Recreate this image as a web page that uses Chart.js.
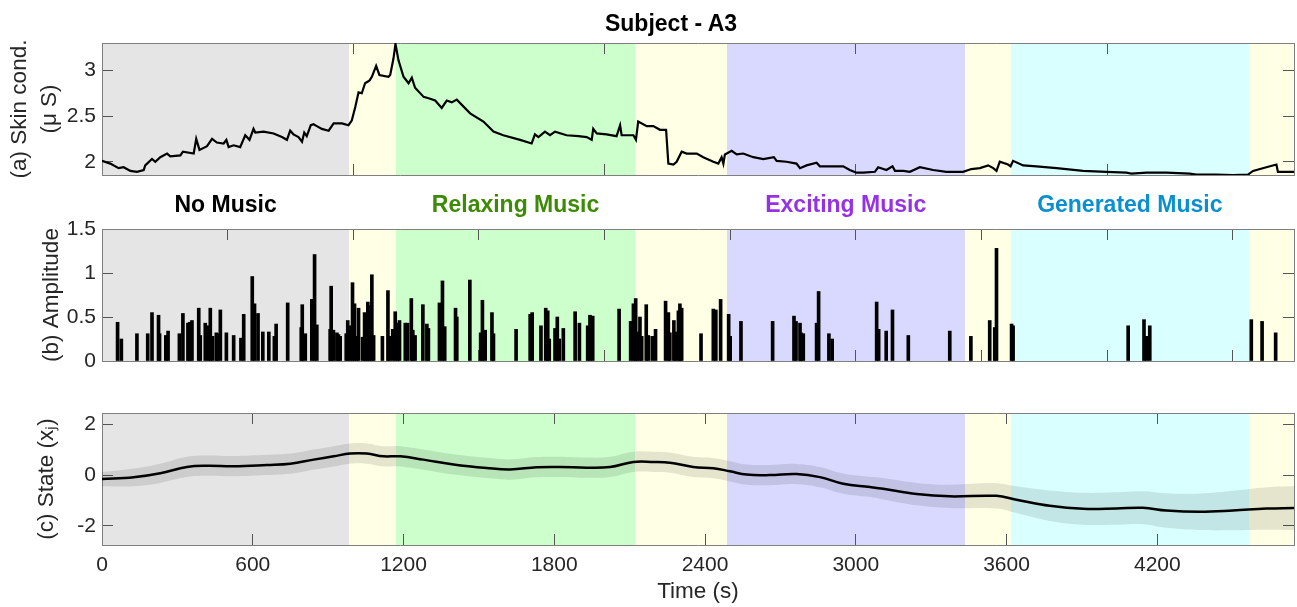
<!DOCTYPE html>
<html>
<head>
<meta charset="utf-8">
<title>Subject - A3</title>
<script src="https://cdn.jsdelivr.net/npm/chart.js@4.4.1/dist/chart.umd.min.js"></script>
<style>
  html, body { margin: 0; padding: 0; background: #ffffff; }
  #figure { position: relative; width: 1297px; height: 607px; overflow: hidden; }
  #figure canvas { position: absolute; left: 0; top: 0; width: 1297px; height: 607px; }
  .caption {
    position: absolute;
    font-family: "Liberation Sans", Arial, Helvetica, sans-serif;
    font-weight: bold;
    font-size: 23px;
    line-height: 1;
    white-space: nowrap;
    transform: translate(-50%, -50%);
  }
</style>
</head>
<body>
<div id="figure">
  <canvas id="skinCanvas" width="1297" height="607"></canvas>
  <canvas id="ampCanvas" width="1297" height="607"></canvas>
  <canvas id="stateCanvas" width="1297" height="607"></canvas>
  <div class="caption" style="left:671px; top:23px; color:#000;">Subject - A3</div>
</div>
<script>
// ---- session phases (seconds) ----
const T_END = 4744;
const phaseStart = [0, 984, 1171, 2121, 2486, 3434, 3617, 4564];
const phaseEnd   = [984, 1171, 2121, 2486, 3434, 3617, 4564, 4744];
const phaseKind  = ['none', 'break', 'relaxing', 'break', 'exciting', 'break', 'generated', 'break'];
const phaseLabel = { none: 'No Music', relaxing: 'Relaxing Music', exciting: 'Exciting Music', generated: 'Generated Music' };

// ---- tick positions ----
const timeTicks     = [0, 600, 1200, 1800, 2400, 3000, 3600, 4200];   // labelled, panel (c)
const skinTimeTicks = [1000, 2000, 3000, 4000];                        // panel (a), unlabelled
const ampTimeTicks  = [500, 1000, 1500, 2000, 2500, 3000, 3500, 4000, 4500]; // panel (b), unlabelled
const skinTicks  = [2, 2.5, 3];
const ampTicks   = [0, 0.5, 1, 1.5];
const stateTicks = [-2, 0, 2];

// ---- (a) skin conductance (µS) ----
const skinTime = [0, 33, 66, 86, 113, 139, 166, 172, 199, 212, 232, 259, 272, 312, 322, 365, 375, 388, 418, 438,
  457, 484, 495, 504, 524, 550, 570, 587, 603, 610, 643, 683, 716, 736, 749, 762, 782, 796, 805, 815,
  831, 842, 855, 875, 902, 922, 955, 981, 994, 1008, 1021, 1034, 1047, 1065, 1074, 1091, 1104, 1140, 1147, 1160,
  1168, 1180, 1200, 1220, 1233, 1246, 1280, 1306, 1326, 1352, 1372, 1392, 1412, 1465, 1518, 1558, 1597, 1664, 1710, 1723,
  1737, 1763, 1783, 1803, 1849, 1896, 1929, 1949, 1955, 1969, 2008, 2048, 2062, 2068, 2115, 2125, 2134, 2168, 2194, 2221,
  2245, 2254, 2274, 2287, 2307, 2327, 2367, 2393, 2433, 2453, 2466, 2473, 2479, 2506, 2526, 2552, 2592, 2632, 2674, 2685,
  2724, 2764, 2778, 2804, 2844, 2857, 2910, 2950, 2976, 3003, 3030, 3076, 3089, 3122, 3146, 3156, 3189, 3215, 3255, 3308,
  3361, 3427, 3460, 3494, 3527, 3547, 3560, 3573, 3606, 3616, 3626, 3666, 3719, 3799, 3905, 3997, 4077, 4097, 4157, 4236,
  4329, 4356, 4435, 4501, 4561, 4581, 4634, 4674, 4680, 4744];
const skinLevel = [2.01, 1.98, 1.93, 1.94, 1.90, 1.89, 1.91, 1.96, 2.03, 2.00, 2.05, 2.09, 2.06, 2.07, 2.11, 2.09, 2.25, 2.13, 2.17, 2.25,
  2.21, 2.20, 2.24, 2.16, 2.18, 2.16, 2.29, 2.24, 2.36, 2.32, 2.33, 2.31, 2.27, 2.24, 2.34, 2.30, 2.27, 2.22, 2.32, 2.28,
  2.40, 2.41, 2.39, 2.36, 2.34, 2.42, 2.42, 2.40, 2.45, 2.60, 2.76, 2.75, 2.86, 2.89, 2.93, 3.05, 2.95, 2.93, 2.95, 3.13,
  3.29, 3.11, 2.93, 2.86, 2.92, 2.81, 2.71, 2.69, 2.67, 2.59, 2.67, 2.65, 2.68, 2.53, 2.44, 2.33, 2.29, 2.24, 2.20, 2.30,
  2.27, 2.33, 2.29, 2.33, 2.29, 2.28, 2.27, 2.24, 2.36, 2.31, 2.30, 2.28, 2.40, 2.29, 2.29, 2.24, 2.44, 2.39, 2.39, 2.35,
  2.35, 1.98, 1.97, 2.00, 2.11, 2.09, 2.09, 2.05, 2.00, 1.98, 2.05, 1.98, 2.08, 2.12, 2.08, 2.09, 2.05, 2.03, 2.05, 2.01,
  2.00, 1.98, 1.93, 1.96, 1.99, 1.95, 1.95, 1.95, 1.91, 1.88, 1.88, 1.89, 1.94, 1.91, 1.95, 1.90, 1.90, 1.89, 1.94, 1.91,
  1.89, 1.89, 1.92, 1.93, 1.96, 1.93, 1.90, 2.00, 1.97, 1.95, 2.01, 1.96, 1.95, 1.93, 1.90, 1.89, 1.88, 1.87, 1.88, 1.88,
  1.87, 1.86, 1.86, 1.855, 1.86, 1.90, 1.94, 1.97, 1.89, 1.89];

// ---- (b) response amplitudes ----
const peakTime = [62, 77, 139, 182, 199, 225, 229, 254, 263, 308, 322, 342, 349, 358, 385, 391, 411, 423, 431, 440,
  455, 460, 471, 495, 524, 553, 564, 598, 607, 621, 640, 664, 686, 693, 739, 793, 797, 809, 835, 846,
  855, 908, 912, 921, 935, 941, 948, 972, 978, 988, 997, 1005, 1014, 1021, 1037, 1045, 1050, 1058, 1065, 1074,
  1081, 1116, 1138, 1144, 1157, 1167, 1176, 1184, 1207, 1216, 1231, 1237, 1246, 1277, 1293, 1299, 1343, 1355, 1364, 1407,
  1412, 1464, 1507, 1514, 1525, 1552, 1558, 1648, 1704, 1712, 1747, 1766, 1774, 1780, 1803, 1812, 1820, 1836, 1883, 1900,
  1933, 1942, 1953, 2058, 2104, 2115, 2124, 2130, 2141, 2148, 2166, 2174, 2190, 2203, 2243, 2254, 2260, 2276, 2283, 2294,
  2300, 2307, 2384, 2433, 2443, 2462, 2494, 2500, 2543, 2669, 2754, 2762, 2778, 2782, 2791, 2844, 2852, 2893, 2906, 3083,
  3091, 3121, 3146, 3209, 3374, 3458, 3533, 3553, 3560, 3620, 3626, 4084, 4147, 4157, 4170, 4574, 4617, 4671];
const peakAmp = [0.44, 0.25, 0.31, 0.31, 0.55, 0.52, 0.31, 0.29, 0.34, 0.31, 0.54, 0.43, 0.44, 0.46, 0.60, 0.29, 0.43, 0.40, 0.60, 0.28,
  0.32, 0.31, 0.58, 0.32, 0.29, 0.26, 0.53, 0.96, 0.65, 0.54, 0.33, 0.33, 0.28, 0.42, 0.66, 0.38, 0.64, 0.31, 0.70, 1.21,
  0.41, 0.36, 0.85, 0.35, 0.32, 0.30, 0.28, 0.31, 0.46, 0.40, 0.89, 0.65, 0.28, 0.60, 0.27, 0.55, 0.37, 0.67, 0.63, 0.98,
  0.29, 0.28, 0.80, 0.28, 0.36, 0.56, 0.43, 0.46, 0.43, 0.43, 0.71, 0.35, 0.29, 0.64, 0.42, 0.37, 0.66, 0.91, 0.39, 0.60,
  0.50, 0.92, 0.32, 0.69, 0.35, 0.55, 0.31, 0.36, 0.53, 0.55, 0.40, 0.60, 0.57, 0.25, 0.37, 0.50, 0.25, 0.37, 0.56, 0.43,
  0.40, 0.52, 0.51, 0.59, 0.45, 0.65, 0.71, 0.33, 0.50, 0.28, 0.64, 0.29, 0.28, 0.36, 0.68, 0.55, 0.32, 0.46, 0.33, 0.57,
  0.65, 0.60, 0.31, 0.59, 0.58, 0.70, 0.53, 0.28, 0.45, 0.45, 0.51, 0.45, 0.43, 0.32, 0.31, 0.43, 0.79, 0.31, 0.25, 0.67,
  0.36, 0.34, 0.58, 0.29, 0.34, 0.28, 0.46, 0.38, 1.28, 0.42, 0.40, 0.40, 0.47, 0.28, 0.40, 0.47, 0.45, 0.32];

// ---- (c) estimated state with uncertainty ----
const stateTime = [0, 126, 232, 338, 418, 524, 656, 749, 842, 922, 988, 1054, 1120, 1187, 1279, 1399, 1531, 1624, 1730, 1823,
  1929, 2022, 2115, 2194, 2260, 2353, 2433, 2499, 2565, 2658, 2764, 2857, 2950, 3056, 3109, 3242, 3374, 3560, 3639, 3772,
  3905, 4037, 4143, 4236, 4369, 4501, 4634, 4744];
const stateMean = [-0.15, -0.08, 0.08, 0.33, 0.38, 0.36, 0.41, 0.46, 0.62, 0.75, 0.86, 0.86, 0.75, 0.75, 0.62, 0.43, 0.29, 0.23, 0.32, 0.33,
  0.30, 0.33, 0.53, 0.53, 0.50, 0.33, 0.28, 0.16, 0.03, 0.01, 0.05, -0.07, -0.33, -0.46, -0.53, -0.74, -0.83, -0.81, -0.96, -1.20,
  -1.32, -1.31, -1.28, -1.39, -1.44, -1.39, -1.31, -1.29];
const stateSpread = [0.28, 0.35, 0.38, 0.40, 0.40, 0.40, 0.40, 0.40, 0.40, 0.40, 0.40, 0.40, 0.40, 0.40, 0.40, 0.40, 0.40, 0.40, 0.40, 0.40,
  0.40, 0.40, 0.40, 0.40, 0.40, 0.40, 0.40, 0.40, 0.40, 0.40, 0.40, 0.40, 0.40, 0.40, 0.42, 0.44, 0.46, 0.50, 0.53, 0.60,
  0.63, 0.64, 0.65, 0.68, 0.72, 0.78, 0.84, 0.87];

// ---- styling ----
const FONT = '"Liberation Sans", Arial, Helvetica, sans-serif';
const INK = '#262626';
const FRAME = '#7f7f7f';
const TICK_INK = '#555555';
const PHASE_FILL = {
  none: '#e5e5e5', break: '#ffffe5', relaxing: '#ccffcc', exciting: '#d9d9ff', generated: '#d9ffff'
};
const CAPTION_INK = { none: '#000000', relaxing: '#3d8a06', exciting: '#9632e6', generated: '#0a8fcf' };

// Pale phase bands painted behind the axes of each panel
const phaseShade = {
  id: 'phaseShade',
  beforeDraw(chart) {
    const { ctx, chartArea: a, scales: { x } } = chart;
    ctx.save();
    ctx.beginPath();
    ctx.rect(a.left, a.top, a.right - a.left, a.bottom - a.top);
    ctx.clip();
    phaseStart.forEach((s, i) => {
      const x0 = Math.round(x.getPixelForValue(s));
      const x1 = Math.round(x.getPixelForValue(phaseEnd[i]));
      ctx.fillStyle = PHASE_FILL[phaseKind[i]];
      ctx.fillRect(x0, a.top, x1 - x0, a.bottom - a.top);
    });
    ctx.restore();
  }
};

const fmt = v => String(Math.round(v * 100) / 100);
const fixedTicks = values => scale => { scale.ticks = values.map(v => ({ value: v })); };
const inwardGrid = () => ({ display: true, drawOnChartArea: false, drawTicks: true, tickLength: -11,
  tickColor: TICK_INK, tickWidth: 1, offset: false });
const frameBorder = () => ({ display: true, color: FRAME, width: 1 });

// Boxed axes: labelled left/bottom, tick-only top/right
function boxedScales(o) {
  return {
    x: {
      type: 'linear', position: 'bottom', min: 0, max: T_END, offset: false,
      grid: inwardGrid(), border: frameBorder(),
      ticks: { display: o.xLabels, autoSkip: false, maxRotation: 0,
        padding: 19, color: INK, font: { family: FONT, size: 21 }, callback: fmt },
      afterBuildTicks: fixedTicks(o.xTicks),
      title: { display: o.xLabels, text: 'Time (s)', color: INK, font: { family: FONT, size: 22.5 },
        padding: { top: 0, bottom: 1.5 } },
      afterFit: s => { s.height = o.xLabels ? 62 : 0; }
    },
    xTop: {
      type: 'linear', position: 'top', min: 0, max: T_END, offset: false,
      grid: inwardGrid(), border: frameBorder(),
      ticks: { display: false, autoSkip: false },
      afterBuildTicks: fixedTicks(o.xTicks),
      afterFit: s => { s.height = 0; }
    },
    y: {
      type: 'linear', position: 'left', min: o.yMin, max: o.yMax,
      grid: inwardGrid(), border: frameBorder(),
      ticks: { autoSkip: false, padding: 17, color: INK,
        font: { family: FONT, size: 21 }, callback: fmt },
      afterBuildTicks: fixedTicks(o.yTicks),
      title: { display: true, text: o.yTitle, color: INK,
        font: { family: FONT, size: 22.5, lineHeight: o.yLine || 1.2 },
        padding: { top: o.yPad, bottom: 0 } },
      afterFit: s => { s.width = 102; }
    },
    yRight: {
      type: 'linear', position: 'right', min: o.yMin, max: o.yMax,
      grid: inwardGrid(), border: frameBorder(),
      ticks: { display: false, autoSkip: false },
      afterBuildTicks: fixedTicks(o.yTicks),
      afterFit: s => { s.width = 0; }
    }
  };
}

const common = {
  responsive: false,
  animation: false,
  events: [],
  plugins: { legend: { display: false }, tooltip: { enabled: false }, title: { display: false } }
};

// (a) skin conductance trace
new Chart(document.getElementById('skinCanvas'), {
  type: 'line',
  data: {
    datasets: [{
      data: skinTime.map((t, i) => ({ x: t, y: skinLevel[i] })),
      borderColor: '#000000', borderWidth: 2.2, pointRadius: 0, tension: 0, fill: false
    }]
  },
  options: Object.assign({}, common, {
    layout: { padding: { left: 0, right: 3, top: 43, bottom: 432 } },
    scales: boxedScales({ xTicks: skinTimeTicks, xLabels: false, yMin: 1.855, yMax: 3.3, yTicks: skinTicks,
      yTitle: ['(a) Skin cond.', '(\u03bc S)'], yLine: '30px', yPad: 5 })
  }),
  plugins: [phaseShade]
});

// (b) response amplitudes as stems
const ampChart = new Chart(document.getElementById('ampCanvas'), {
  type: 'bar',
  data: {
    datasets: [{
      data: peakTime.map((t, i) => ({ x: t, y: peakAmp[i] })),
      backgroundColor: '#000000', borderWidth: 0, barThickness: 3, grouped: false
    }]
  },
  options: Object.assign({}, common, {
    layout: { padding: { left: 0, right: 3, top: 229, bottom: 246 } },
    scales: boxedScales({ xTicks: ampTimeTicks, xLabels: false, yMin: 0, yMax: 1.5, yTicks: ampTicks,
      yTitle: '(b) Amplitude', yPad: 38.5 })
  }),
  plugins: [phaseShade]
});

// (c) state estimate with its uncertainty band
new Chart(document.getElementById('stateCanvas'), {
  type: 'line',
  data: {
    datasets: [
      {
        data: stateTime.map((t, i) => ({ x: t, y: stateMean[i] + stateSpread[i] })),
        borderWidth: 0, pointRadius: 0, tension: 0.4, fill: '+1', backgroundColor: 'rgba(0,0,0,0.10)'
      },
      {
        data: stateTime.map((t, i) => ({ x: t, y: stateMean[i] - stateSpread[i] })),
        borderWidth: 0, pointRadius: 0, tension: 0.4, fill: false
      },
      {
        data: stateTime.map((t, i) => ({ x: t, y: stateMean[i] })),
        borderColor: '#000000', borderWidth: 2.5, pointRadius: 0, tension: 0.4, fill: false
      }
    ]
  },
  options: Object.assign({}, common, {
    layout: { padding: { left: 0, right: 3, top: 413, bottom: 0 } },
    scales: boxedScales({ xTicks: timeTicks, xLabels: true, yMin: -2.75, yMax: 2.46, yTicks: stateTicks,
      yTitle: '(c) State (x\u2c7c)', yPad: 33.5 })
  }),
  plugins: [phaseShade]
});

// Phase captions centred over their spans, just above panel (b)
const fig = document.getElementById('figure');
const xs = ampChart.scales.x;
phaseKind.forEach((k, i) => {
  if (!phaseLabel[k]) return;
  const el = document.createElement('div');
  el.className = 'caption';
  el.textContent = phaseLabel[k];
  el.style.color = CAPTION_INK[k];
  el.style.left = xs.getPixelForValue((phaseStart[i] + phaseEnd[i]) / 2) + 'px';
  el.style.top = '204px';
  fig.appendChild(el);
});
</script>
</body>
</html>
